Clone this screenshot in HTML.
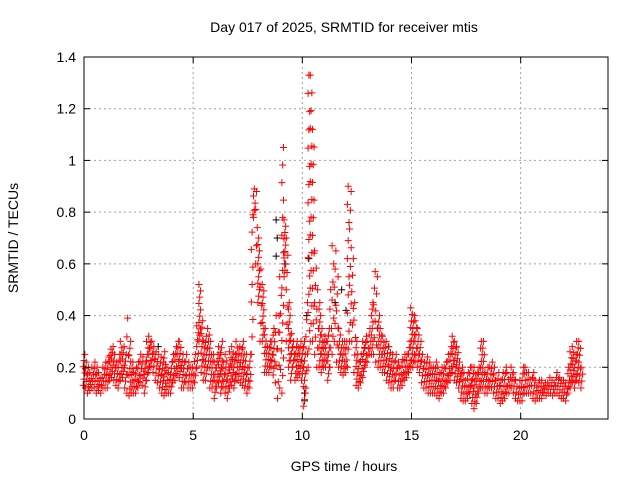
<!DOCTYPE html>
<html><head><meta charset="utf-8"><style>
html,body{margin:0;padding:0;background:#fff;}
svg{display:block;font-family:"Liberation Sans",sans-serif;}
</style></head><body>
<svg id="chart" width="640" height="480" viewBox="0 0 640 480">
<rect width="640" height="480" fill="#fff"/>
<text x="344" y="32" font-size="14" text-anchor="middle">Day 017 of 2025, SRMTID for receiver mtis</text>
<text x="344" y="471" font-size="14" text-anchor="middle">GPS time / hours</text>
<text x="18" y="238" font-size="14" text-anchor="middle" transform="rotate(-90 18 238)">SRMTID / TECUs</text>
<g id="grid"></g>
<g id="marks"></g>
<rect x="84" y="57" width="524" height="362" fill="none" stroke="#000" stroke-width="1"/>
<g id="axes"></g>
</svg>
<script>
const xTicks=[0,5,10,15,20];
const yTicks=[0,0.2,0.4,0.6,0.8,1,1.2,1.4];
const yTickLabels=["0","0.2","0.4","0.6","0.8","1","1.2","1.4"];
const tStart=0, tStep=0.1;
const hiVals=[.25,.22,.2,.18,.2,.22,.2,.18,.16,.2,
.22,.24,.27,.28,.25,.22,.25,.3,.28,.25,
.39,.3,.22,.18,.2,.22,.25,.24,.22,.3,
.32,.3,.28,.26,.25,.24,.22,.26,.2,.18,
.22,.25,.28,.3,.3,.25,.22,.25,.22,.2,
.2,.25,.36,.52,.38,.3,.32,.35,.3,.25,
.22,.25,.28,.3,.22,.25,.2,.26,.28,.25,
.3,.28,.27,.3,.25,.2,.25,.79,.89,.88,
.7,.58,.52,.35,.28,.3,.3,.35,.4,.4,
.55,1.05,.77,.7,.45,.33,.3,.28,.3,.3,
.28,.3,.45,1.33,1.33,1.12,.65,.5,.45,.35,
.32,.3,.35,.5,.67,.65,.55,.35,.3,.3,
.3,.9,.88,.62,.45,.3,.22,.25,.3,.32,
.3,.35,.45,.57,.55,.4,.35,.32,.3,.28,
.28,.25,.22,.25,.22,.2,.23,.25,.25,.3,
.43,.4,.38,.35,.3,.25,.22,.24,.22,.2,
.2,.22,.2,.18,.2,.2,.22,.25,.28,.32,
.3,.28,.22,.2,.18,.15,.18,.2,.2,.2,
.18,.2,.3,.3,.18,.2,.2,.22,.2,.15,
.18,.15,.18,.2,.18,.16,.2,.18,.15,.12,
.15,.2,.2,.18,.18,.16,.18,.15,.14,.15,
.15,.14,.14,.16,.15,.14,.16,.18,.16,.15,
.15,.14,.2,.26,.28,.25,.3,.3,.2];
const loVals=[.13,.12,.1,.11,.12,.12,.1,.11,.1,.12,
.12,.12,.15,.16,.15,.13,.12,.15,.16,.12,
.1,.09,.1,.1,.1,.12,.14,.13,.1,.15,
.18,.2,.18,.15,.14,.12,.1,.09,.1,.1,
.1,.14,.15,.17,.16,.12,.12,.14,.12,.12,
.12,.14,.2,.3,.18,.15,.15,.2,.12,.12,
.08,.12,.14,.1,.12,.1,.08,.12,.13,.12,
.15,.15,.14,.13,.12,.1,.12,.25,.78,.6,
.45,.3,.3,.18,.18,.18,.2,.17,.14,.08,
.12,.1,.55,.3,.2,.15,.2,.15,.16,.17,
.15,.05,.12,.2,.3,.3,.25,.2,.2,.18,
.2,.2,.15,.2,.25,.3,.22,.2,.18,.17,
.18,.2,.3,.3,.18,.13,.12,.14,.16,.2,
.22,.25,.25,.25,.22,.2,.2,.18,.18,.15,
.14,.12,.12,.15,.12,.12,.13,.15,.16,.18,
.2,.2,.22,.2,.18,.14,.12,.12,.1,.1,
.1,.1,.09,.08,.1,.1,.12,.14,.15,.18,
.15,.14,.12,.08,.07,.07,.08,.1,.06,.04,
.06,.1,.12,.12,.1,.1,.12,.12,.1,.08,
.08,.06,.07,.08,.1,.1,.12,.1,.08,.07,
.07,.07,.1,.1,.1,.1,.08,.07,.08,.08,
.08,.1,.09,.1,.1,.09,.1,.1,.09,.08,
.08,.07,.1,.12,.14,.12,.15,.14,.12];
const blackTimes=[3.4,8.8,8.85,8.8,9.2,10.1,10.1,10.2,10.3,11.5,11.8,12.0];
const blackVals=[.28,.77,.7,.63,.6,.07,.1,.4,.62,.45,.5,.42];

const X0=84,X1=608,Y0=419,Y1=57,XMAX=24,YMAX=1.4;
const xs=v=>X0+v/XMAX*(X1-X0);
const ys=v=>Y0-v/YMAX*(Y0-Y1);
const NS="http://www.w3.org/2000/svg";
const grid=document.getElementById('grid'),axes=document.getElementById('axes'),marks=document.getElementById('marks');
function ln(p,x1,y1,x2,y2,st,dash){const l=document.createElementNS(NS,'line');l.setAttribute('x1',x1);l.setAttribute('y1',y1);l.setAttribute('x2',x2);l.setAttribute('y2',y2);l.setAttribute('stroke',st);if(dash)l.setAttribute('stroke-dasharray',dash);p.appendChild(l);return l;}
xTicks.forEach(t=>{const x=xs(t);
 if(t>0){const g=ln(grid,x,Y0,x,Y1,'#a0a0a0','2,3');
 
 }
 const k=ln(axes,x,Y0,x,Y0-6,'#000');
 
 
 ln(axes,x,Y1,x,Y1+6,'#000');
 const tx=document.createElementNS(NS,'text');tx.setAttribute('x',x);tx.setAttribute('y',Y0+21);tx.setAttribute('font-size','14');tx.setAttribute('text-anchor','middle');tx.textContent=t;
 
 
 axes.appendChild(tx);});
yTicks.forEach((t,i)=>{const y=ys(t);
 if(t>0&&t<YMAX){const g=ln(grid,X0,y,X1,y,'#a0a0a0','2,3');
 
 }
 const k=ln(axes,X0,y,X0+6,y,'#000');
 
 
 ln(axes,X1,y,X1-6,y,'#000');
 const tx=document.createElementNS(NS,'text');tx.setAttribute('x',X0-8);tx.setAttribute('y',y+5);tx.setAttribute('font-size','14');tx.setAttribute('text-anchor','end');tx.textContent=yTickLabels[i];
 
 
 axes.appendChild(tx);});
function plus(x,y,c){const p=document.createElementNS(NS,'path');p.setAttribute('d',`M${x-3.5} ${y}h7M${x} ${y-3.5}v7`);p.setAttribute('stroke',c);p.setAttribute('stroke-width','1');marks.appendChild(p);return p;}
blackTimes.forEach((t,i)=>{const p=plus(xs(t),ys(blackVals[i]),'#000');
 
 });
hiVals.forEach((h,i)=>{const t=tStart+i*tStep,lo=loVals[i];const x=xs(t);
 const span=h-lo;
 const step=span<=0.25?0.025:0.07;
 const n=Math.max(1,Math.round(span/step));
 for(let k=0;k<=n;k++){const v=lo+span*k/n;const xo=x+((k%3)-1)*0.8;
  const p=plus(xo,ys(v),'#ff0000');
  
  }
});
</script>
</body></html>
